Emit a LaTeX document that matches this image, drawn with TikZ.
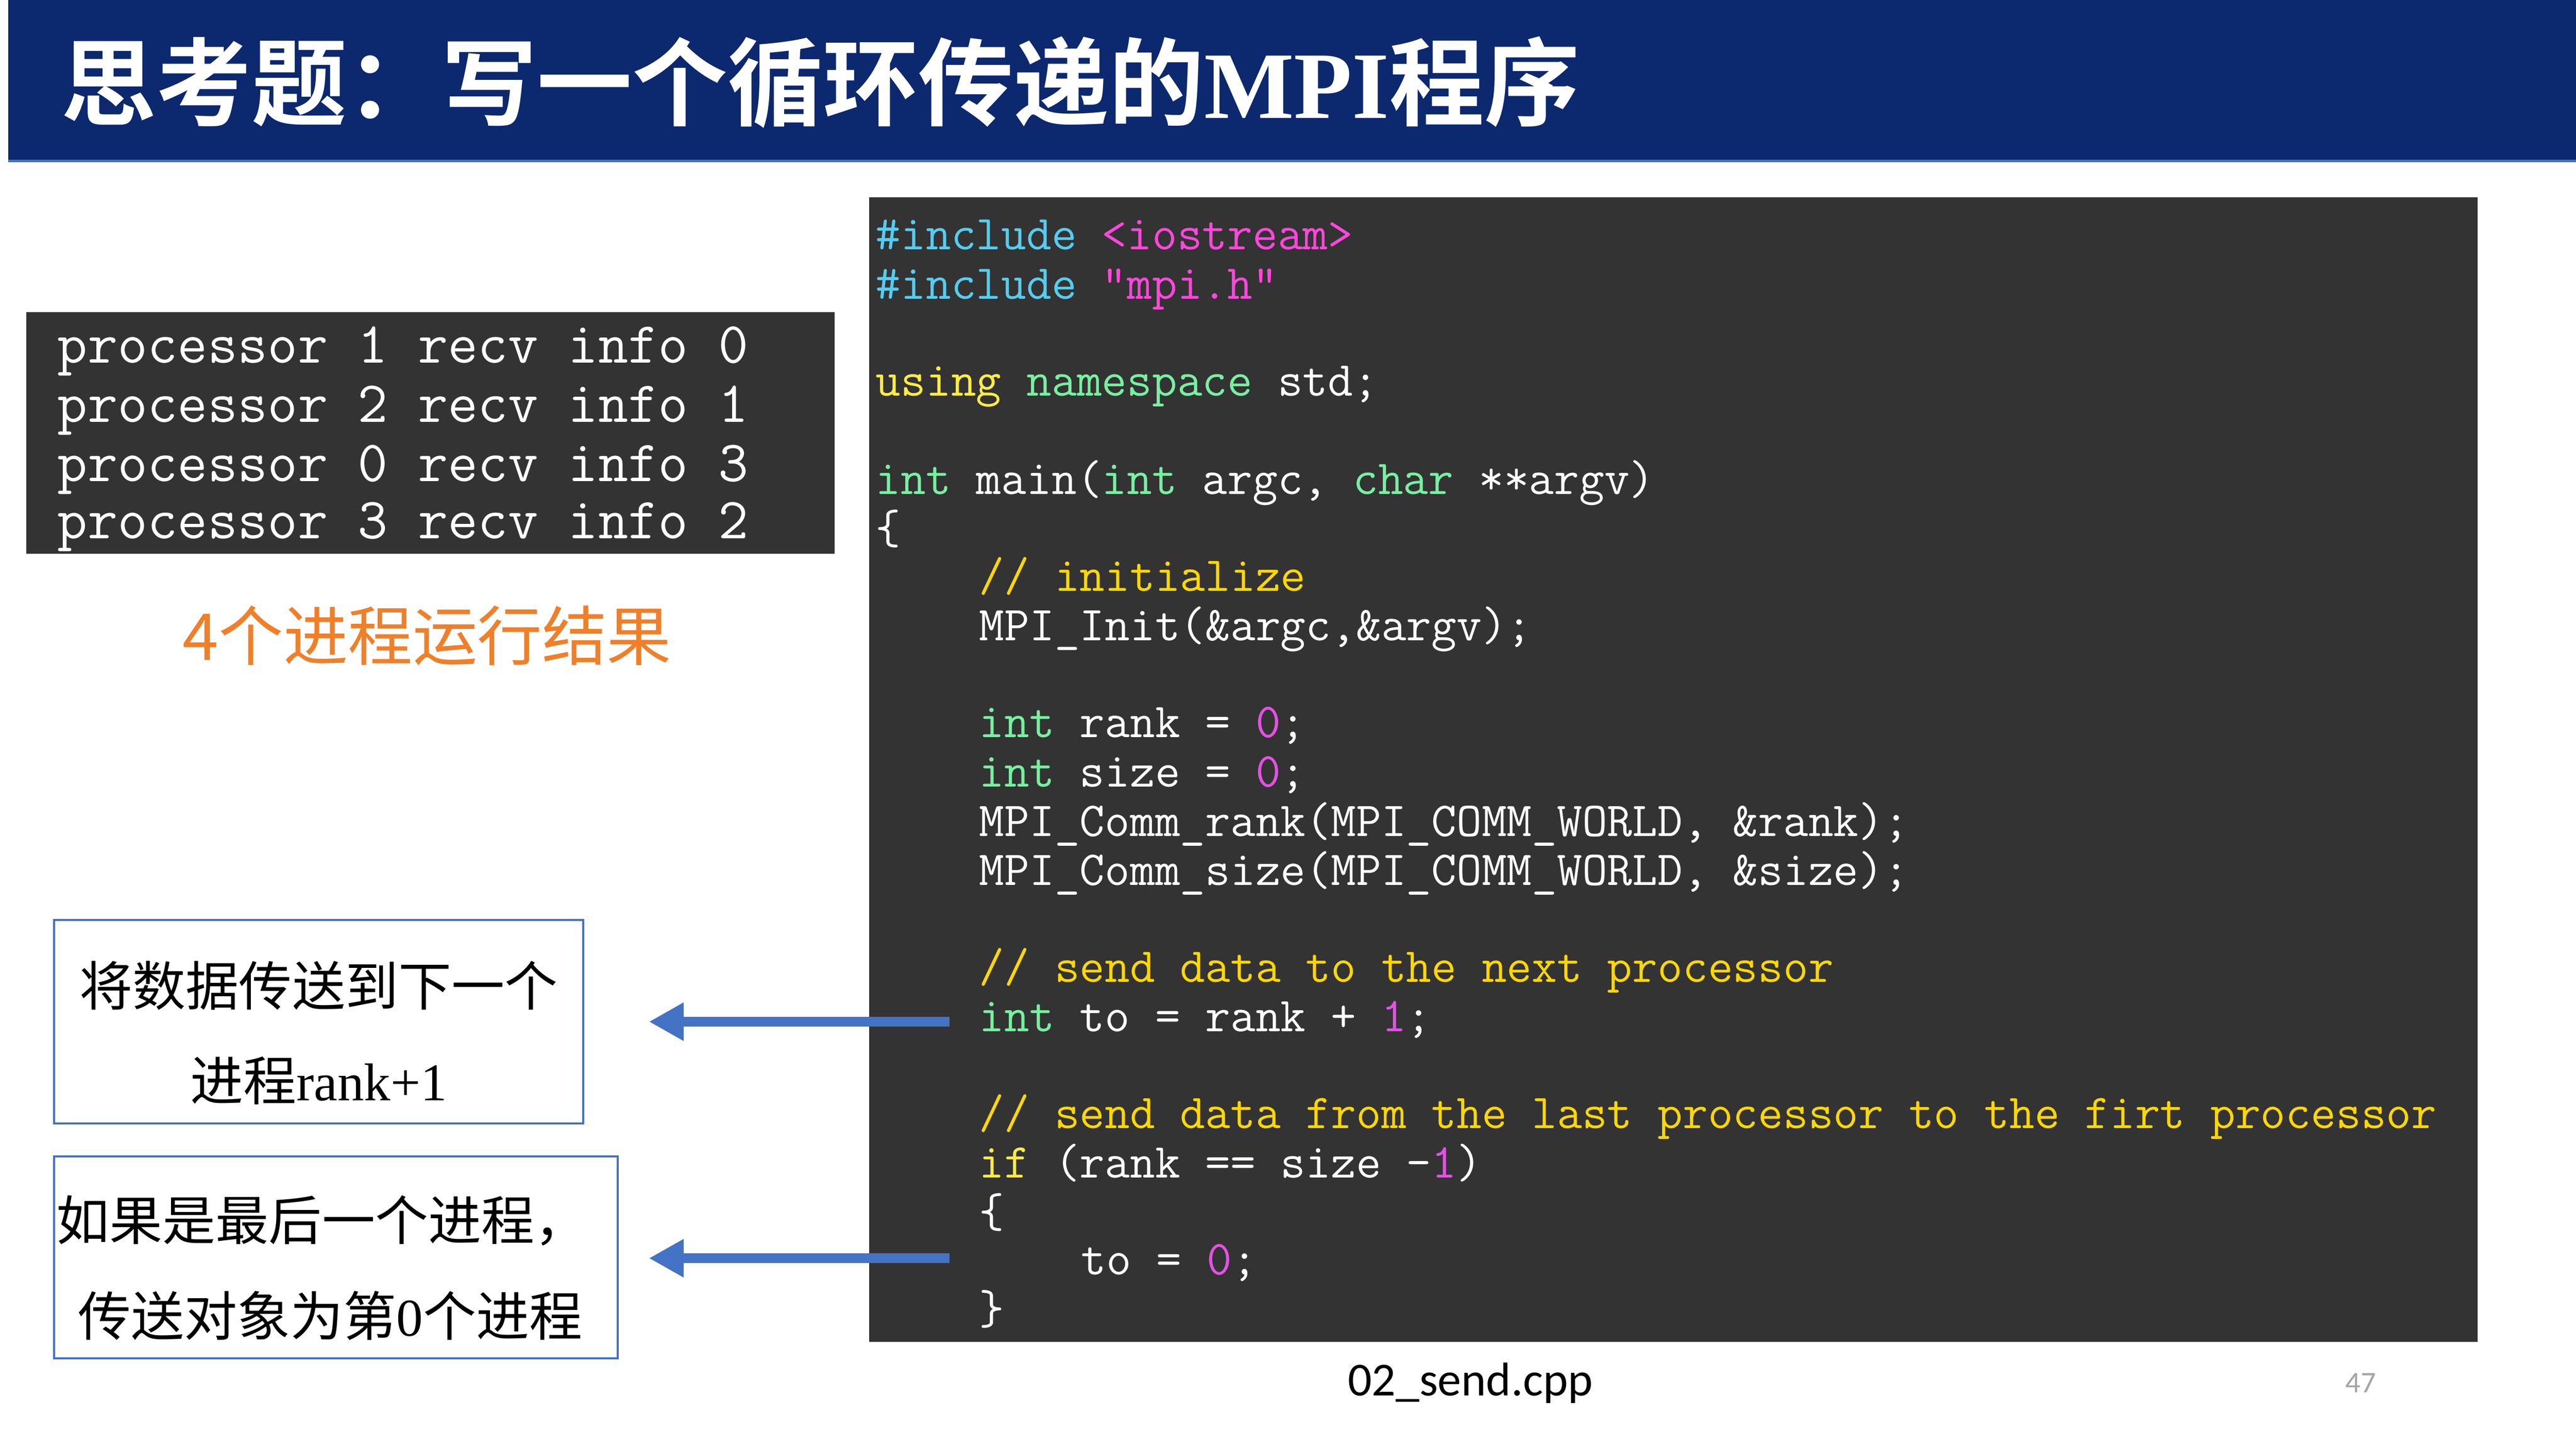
\documentclass[tikz,border=0pt]{standalone}
\usepackage{fontspec}
\setmonofont{Latin Modern Mono}
\newfontfamily\cjk{Noto Sans CJK SC}
\newfontfamily\cjkb{Noto Sans CJK SC Bold}
\newfontfamily\tms{Liberation Serif}
\newfontfamily\crl{Carlito}
\usetikzlibrary{arrows.meta}
\definecolor{navy}{RGB}{12,40,110}
\definecolor{codebg}{RGB}{51,51,51}
\definecolor{cinc}{RGB}{85,205,240}
\definecolor{cstr}{RGB}{255,70,220}
\definecolor{ckwa}{RGB}{255,235,70}
\definecolor{ckwb}{RGB}{120,240,160}
\definecolor{ccmt}{RGB}{255,215,0}
\definecolor{cnum}{RGB}{230,80,230}
\definecolor{bblue}{RGB}{68,114,196}
\definecolor{orng}{RGB}{240,127,42}
\newcommand{\I}[1]{\textcolor{cinc}{#1}}
\newcommand{\Sx}[1]{\textcolor{cstr}{#1}}
\newcommand{\Ka}[1]{\textcolor{ckwa}{#1}}
\newcommand{\Kb}[1]{\textcolor{ckwb}{#1}}
\newcommand{\Cm}[1]{\textcolor{ccmt}{#1}}
\newcommand{\Nm}[1]{\textcolor{cnum}{#1}}
\begin{document}
\begin{tikzpicture}[x=0.1cm,y=-0.1cm,
  code/.style={anchor=base west,inner sep=0pt,text=white,font=\ttfamily\fontsize{84.5}{84.5}\selectfont},
  outl/.style={anchor=base west,inner sep=0pt,text=white,font=\ttfamily\fontsize{101}{101}\selectfont},
  note/.style={inner sep=0pt,font=\cjk\fontsize{92}{92}\selectfont},
  nbox/.style={draw=bblue,line width=4pt,fill=white},
  arr/.style={draw=bblue,line width=17pt,-{Triangle[length=60pt,width=62pt]}}]
\useasboundingbox (0,0) rectangle (1568,882);
\fill[white] (0,0) rectangle (1568,882);
% title
\fill[navy] (5,0) rectangle (1568,98);
\draw[bblue,line width=4pt] (5,98) -- (1568,98);
\node[anchor=west,inner sep=0pt,text=white] (title) at (37,50)
  {\cjkb\fontsize{165}{165}\selectfont 思考题：写一个循环传递的{\tms\bfseries MPI}程序};
% output box
\fill[codebg] (16,190) rectangle (508,337);
\node[outl] (o1) at (35,221) {processor 1 recv info 0};
\node[outl] (o2) at (35,257) {processor 2 recv info 1};
\node[outl] (o3) at (35,293) {processor 0 recv info 3};
\node[outl] (o4) at (35,328) {processor 3 recv info 2};
\node[inner sep=0pt,text=orng,font=\cjk\fontsize{112}{112}\selectfont] (res) at (260,387) {4个进程运行结果};
% code box
\fill[codebg] (529,120) rectangle (1508,817);
\node[code] at (533,152) {\I{\#include} \Sx{<iostream>}};
\node[code] at (533,182) {\I{\#include} \Sx{"mpi.h"}};
\node[code] at (533,241) {\Ka{using} \Kb{namespace} std;};
\node[code] at (533,301) {\Kb{int} main(\Kb{int} argc, \Kb{char} **argv)};
\node[code] at (533,331) {\{};
\node[code] at (596,360) {\Cm{// initialize}};
\node[code] at (596,390) {MPI\_Init(\&argc,\&argv);};
\node[code] at (596,449) {\Kb{int} rank = \Nm{0};};
\node[code] at (596,479) {\Kb{int} size = \Nm{0};};
\node[code] at (596,509) {MPI\_Comm\_rank(MPI\_COMM\_WORLD, \&rank);};
\node[code] at (596,539) {MPI\_Comm\_size(MPI\_COMM\_WORLD, \&size);};
\node[code] at (596,598) {\Cm{// send data to the next processor}};
\node[code] (l1) at (596,628) {\Kb{int} to = rank + \Nm{1};};
\node[code] at (596,687) {\Cm{// send data from the last processor to the firt processor}};
\node[code] at (596,717) {\Ka{if} (rank == size -\Nm{1})};
\node[code] at (596,747) {\{};
\node[code] (l2) at (658,776) {to = \Nm{0};};
\node[code] at (596,806) {\}};
% note boxes
\draw[nbox] (33,560) rectangle (355,684);
\node[note] (n1a) at (194,600) {将数据传送到下一个};
\node[note] (n1b) at (194,658) {进程{\tms rank+1}};
\draw[nbox] (33,704) rectangle (376,827);
\node[note] (n2a) at (196,743) {如果是最后一个进程，};
\node[note] (n2b) at (201,801) {传送对象为第{\tms 0}个进程};
\coordinate (a1s) at (578,622); \coordinate (a1e) at (395,622);
\coordinate (a2s) at (578,766); \coordinate (a2e) at (395,766);
\draw[arr] (a1s) -- (a1e);
\draw[arr] (a2s) -- (a2e);
\node[inner sep=0pt,font=\crl\fontsize{82}{82}\selectfont] (fn) at (895,842) {02\_send.cpp};
\node[inner sep=0pt,text=gray!70,font=\crl\fontsize{52}{52}\selectfont] (pg) at (1437,842) {47};
\end{tikzpicture}
\end{document}
